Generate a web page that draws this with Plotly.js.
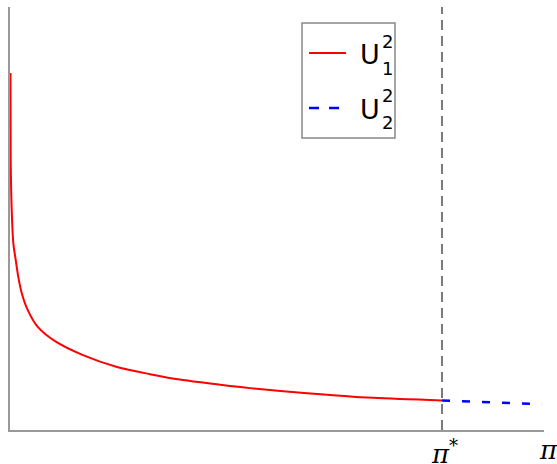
<!DOCTYPE html>
<html>
<head>
<meta charset="utf-8">
<script src="https://cdn.plot.ly/plotly-3.0.1.min.js"></script>
<style>html,body{margin:0;padding:0;background:#fff;}#chart{width:557px;height:464px;}</style>
</head>
<body>
<div id="chart"></div>
<script>
// Data (x normalised to [0, π], y arbitrary units)
const u1X = [0.0009, 0.0013, 0.0032, 0.0062, 0.0107, 0.0155, 0.0219, 0.0331, 0.0524, 0.0843, 0.1367, 0.2004, 0.2622, 0.3240, 0.3876, 0.4494, 0.5562, 0.6798, 0.8090];
const u1Y = [0.844, 0.638, 0.520, 0.442, 0.402, 0.362, 0.324, 0.284, 0.243, 0.210, 0.177, 0.149, 0.132, 0.118, 0.108, 0.099, 0.087, 0.076, 0.070];
const u2X = [0.8090, 0.9026, 0.9963];
const u2Y = [0.070, 0.065, 0.061];
const piStar = 0.809;
const piMax = 1.0;
const tickVals = [piStar, piMax];
const tickText = ['<i>π</i><sup>*</sup>', '<i>π</i>'];

const W = 557, H = 464, L = 10, R = 13, T = 7, B = 34;
const pw = W - L - R, ph = H - T - B;
const px = v => (v - L) / pw;
const py = v => (H - B - v) / ph;

const traces = [
  {x: u1X, y: u1Y, mode: 'lines', line: {color: '#ff0000', width: 2, shape: 'spline', smoothing: 0.8}, showlegend: false, hoverinfo: 'skip'},
  {x: u2X, y: u2Y, mode: 'lines', line: {color: '#0000ff', width: 2.5, dash: '8px,12px'}, showlegend: false, hoverinfo: 'skip'}
];

const sans = 'DejaVu Sans, Verdana, sans-serif';
const serif = 'DejaVu Serif, Liberation Serif, serif';
const annos = [
  {xref: 'paper', yref: 'paper', x: px(358), y: py(54), xanchor: 'left', yanchor: 'middle', text: 'U', showarrow: false, font: {family: sans, size: 27, color: '#000'}},
  {xref: 'paper', yref: 'paper', x: px(380), y: py(41), xanchor: 'left', yanchor: 'middle', text: '2', showarrow: false, font: {family: sans, size: 18, color: '#000'}},
  {xref: 'paper', yref: 'paper', x: px(380), y: py(68), xanchor: 'left', yanchor: 'middle', text: '1', showarrow: false, font: {family: sans, size: 18, color: '#000'}},
  {xref: 'paper', yref: 'paper', x: px(358), y: py(109), xanchor: 'left', yanchor: 'middle', text: 'U', showarrow: false, font: {family: sans, size: 27, color: '#000'}},
  {xref: 'paper', yref: 'paper', x: px(380), y: py(96), xanchor: 'left', yanchor: 'middle', text: '2', showarrow: false, font: {family: sans, size: 18, color: '#000'}},
  {xref: 'paper', yref: 'paper', x: px(380), y: py(123), xanchor: 'left', yanchor: 'middle', text: '2', showarrow: false, font: {family: sans, size: 18, color: '#000'}}
];
// tick labels drawn at the axis tick positions
const tickShift = [2, 4];
tickVals.forEach((v, i) => {
  annos.push({xref: 'x', yref: 'paper', x: v, y: 0, yshift: -3, xshift: tickShift[i], xanchor: 'center', yanchor: 'top',
    text: tickText[i], showarrow: false, font: {family: serif, size: 26, color: '#000'}});
});

const layout = {
  width: W, height: H,
  margin: {l: L, r: R, t: T, b: B, pad: 0},
  paper_bgcolor: '#fff', plot_bgcolor: '#fff',
  showlegend: false,
  xaxis: {range: [0, 1], showgrid: false, zeroline: false, showline: true, linecolor: '#999', linewidth: 2,
          showticklabels: false, ticks: ''},
  yaxis: {range: [0, 1], showgrid: false, zeroline: false, showline: true, linecolor: '#999', linewidth: 2,
          showticklabels: false, ticks: ''},
  shapes: [
    {type: 'line', xref: 'x', yref: 'paper', x0: piStar, x1: piStar, y0: 0, y1: 1,
     line: {color: '#333', width: 1.3, dash: '10px,6px'}},
    {type: 'rect', xref: 'paper', yref: 'paper', x0: px(302), x1: px(395), y0: py(138), y1: py(23),
     line: {color: '#888', width: 1.5}, fillcolor: '#fff'},
    {type: 'line', xref: 'paper', yref: 'paper', x0: px(309), x1: px(346), y0: py(53), y1: py(53),
     line: {color: '#ff0000', width: 2}},
    {type: 'line', xref: 'paper', yref: 'paper', x0: px(309), x1: px(346), y0: py(108), y1: py(108),
     line: {color: '#0000ff', width: 2.5, dash: '10px,10px'}}
  ],
  annotations: annos
};
Plotly.newPlot('chart', traces, layout, {staticPlot: true, displayModeBar: false});
</script>
</body>
</html>
